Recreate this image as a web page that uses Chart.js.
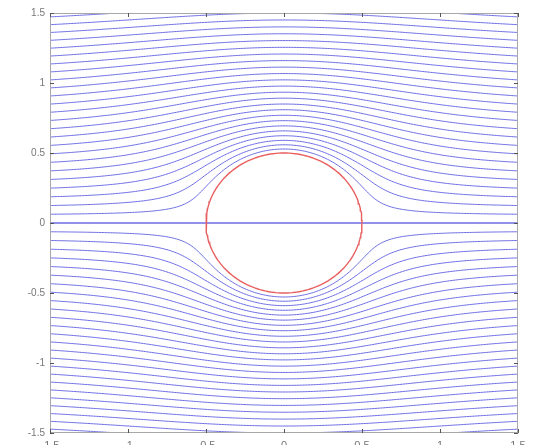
<!DOCTYPE html>
<html><head><meta charset="utf-8">
<script src="https://cdn.jsdelivr.net/npm/chart.js@4.4.1/dist/chart.umd.min.js"></script>
<style>
html,body{margin:0;padding:0;background:#fff;overflow:hidden;width:556px;height:445px}
#wrap{position:relative;width:556px;height:460px}
</style></head><body>
<div id="wrap"><canvas id="c" width="556" height="460"></canvas></div>
<script>
// ---- data ----
const xRange = [-1.5, 1.5];
const yRange = [-1.5, 1.5];
const xTicks = [-1.5, -1, -0.5, 0, 0.5, 1, 1.5];
const yTicks = [-1.5, -1, -0.5, 0, 0.5, 1, 1.5];
const cylinderRadius = 0.5;
// stream-function value of each streamline (upper half, lower half, centre line)
const upperLevels = [0.0556, 0.1111, 0.1667, 0.2222, 0.2778, 0.3333, 0.3889, 0.4444, 0.5, 0.5556,
  0.6111, 0.6667, 0.7222, 0.7778, 0.8333, 0.8889, 0.9444, 1.0, 1.0556, 1.1111,
  1.1667, 1.2222, 1.2778, 1.3333, 1.3889];
const lowerLevels = [-0.0556, -0.1111, -0.1667, -0.2222, -0.2778, -0.3333, -0.3889, -0.4444, -0.5, -0.5556,
  -0.6111, -0.6667, -0.7222, -0.7778, -0.8333, -0.8889, -0.9444, -1.0, -1.0556, -1.1111,
  -1.1667, -1.2222, -1.2778, -1.3333, -1.3889];
const centreLevel = [0];
const sampleStep = 0.01;

// ---- build the tables the library needs ----
const R = cylinderRadius;
function solveY(x, psi) {
  const R2 = R * R, a = Math.abs(psi);
  let lo = Math.abs(x) < R ? Math.sqrt(R2 - x * x) : 1e-9;
  let hi = 4;
  const f = y => y * (1 - R2 / (x * x + y * y)) - a;
  for (let i = 0; i < 60; i++) { const m = (lo + hi) / 2; if (f(m) > 0) hi = m; else lo = m; }
  return Math.sign(psi) * (lo + hi) / 2;
}
const xs = [];
for (let i = 0; ; i++) { const x = +(xRange[0] + i * sampleStep).toFixed(4); if (x > xRange[1] + 1e-9) break; xs.push(x); }

const lineColor = 'rgb(108,108,228)';
const datasets = [];
// cylinder outline
const circ = [];
for (let i = 0; i <= 360; i += 2) { const t = i * Math.PI / 180; circ.push({x: R * Math.cos(t), y: R * Math.sin(t)}); }
datasets.push({data: circ, borderColor: 'rgb(232,95,95)', borderWidth: 1.4, showLine: true, pointRadius: 0, tension: 0});
centreLevel.forEach(() => {
  datasets.push({data: xs.map(x => ({x, y: 0})), borderColor: lineColor, borderWidth: 1.3, showLine: true, pointRadius: 0});
});
upperLevels.concat(lowerLevels).forEach(psi => {
  datasets.push({data: xs.map(x => ({x, y: solveY(x, psi)})), borderColor: lineColor, borderWidth: 1, showLine: true, pointRadius: 0, tension: 0});
});

const framePlugin = {
  id: 'frame',
  afterDatasetsDraw(chart) {
    const {ctx, chartArea: a, scales: {x, y}} = chart;
    ctx.save();
    ctx.strokeStyle = '#a8a8a8'; ctx.lineWidth = 1;
    ctx.strokeRect(a.left + 0.5, a.top + 0.5, a.right - a.left - 1, a.bottom - a.top - 1);
    ctx.strokeStyle = '#555';
    ctx.beginPath();
    xTicks.forEach(v => { const p = Math.round(x.getPixelForValue(v)) + 0.5;
      ctx.moveTo(p, a.bottom); ctx.lineTo(p, a.bottom - 4); ctx.moveTo(p, a.top); ctx.lineTo(p, a.top + 4); });
    yTicks.forEach(v => { const p = Math.round(y.getPixelForValue(v)) + 0.5;
      ctx.moveTo(a.left, p); ctx.lineTo(a.left + 4, p); ctx.moveTo(a.right, p); ctx.lineTo(a.right - 4, p); });
    ctx.stroke();
    ctx.restore();
  }
};

new Chart(document.getElementById('c'), {
  type: 'scatter',
  data: {datasets},
  options: {
    responsive: false, animation: false, events: [],
    layout: {padding: {top: 13, right: 38, left: 0, bottom: 0}},
    plugins: {legend: {display: false}, tooltip: {enabled: false}},
    elements: {line: {borderCapStyle: 'round'}},
    scales: {
      x: {type: 'linear', min: xRange[0], max: xRange[1],
        afterBuildTicks: s => { s.ticks = xTicks.map(v => ({value: v})); },
        afterFit: s => { s.height = 27; },
        grid: {display: false, drawTicks: false}, border: {display: false},
        ticks: {padding: 6, color: '#777', autoSkip: false, maxRotation: 0,
          font: {family: 'Liberation Sans', size: 11}, callback: v => String(v)}},
      y: {type: 'linear', min: yRange[0], max: yRange[1],
        afterBuildTicks: s => { s.ticks = yTicks.map(v => ({value: v})); },
        afterFit: s => { s.width = 50; },
        grid: {display: false, drawTicks: false}, border: {display: false},
        ticks: {padding: 5, color: '#777', autoSkip: false,
          font: {family: 'Liberation Sans', size: 10}, callback: v => String(v)}}
    }
  },
  plugins: [framePlugin]
});
</script>
</body></html>
